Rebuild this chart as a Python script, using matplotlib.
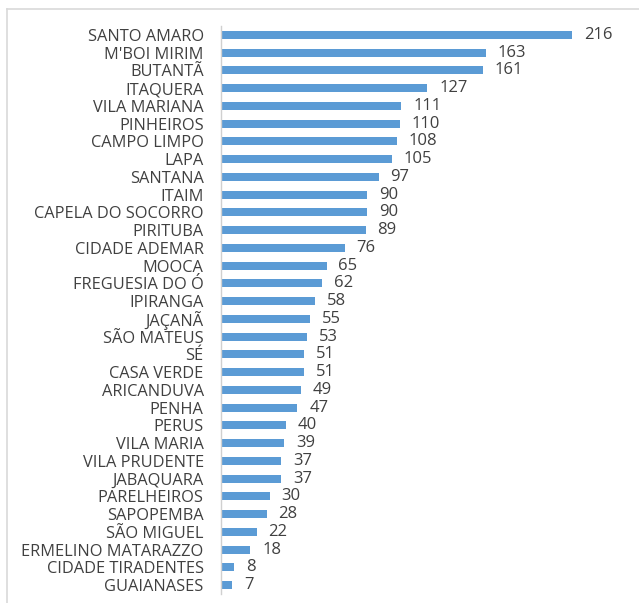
import matplotlib
matplotlib.use("Agg")
import matplotlib.pyplot as plt
from matplotlib.lines import Line2D

categories = ["SANTO AMARO", "M'BOI MIRIM", "BUTANTÃ", "ITAQUERA", "VILA MARIANA",
              "PINHEIROS", "CAMPO LIMPO", "LAPA", "SANTANA", "ITAIM",
              "CAPELA DO SOCORRO", "PIRITUBA", "CIDADE ADEMAR", "MOOCA", "FREGUESIA DO Ó",
              "IPIRANGA", "JAÇANÃ", "SÃO MATEUS", "SÉ", "CASA VERDE",
              "ARICANDUVA", "PENHA", "PERUS", "VILA MARIA", "VILA PRUDENTE",
              "JABAQUARA", "PARELHEIROS", "SAPOPEMBA", "SÃO MIGUEL", "ERMELINO MATARAZZO",
              "CIDADE TIRADENTES", "GUAIANASES"]
values = [216, 163, 161, 127, 111, 110, 108, 105, 97, 90,
          90, 89, 76, 65, 62, 58, 55, 53, 51, 51,
          49, 47, 40, 39, 37, 37, 30, 28, 22, 18, 8, 7]

W, H = 639, 603
fig = plt.figure(figsize=(W / 100, H / 100), dpi=100)
plt.rcParams['font.family'] = ['Open Sans', 'DejaVu Sans']

n = len(categories)
top_c, bot_c = 35, 585
step = (bot_c - top_c) / (n - 1)
y_top = top_c - step / 2
y_bot = bot_c + step / 2
left = 221
xmax = 250
px_per = (572 - left) / 216
right = left + xmax * px_per
ax = fig.add_axes([left / W, 1 - y_bot / H, (right - left) / W, (y_bot - y_top) / H])

ypos = list(range(n))
ax.barh(ypos, values, height=0.45, color='#5B9BD5')
ax.set_ylim(n - 0.5, -0.5)
ax.set_xlim(0, xmax)
ax.set_yticks(ypos)
ax.set_yticklabels(categories, fontsize=11.8, color='#404040')
ax.tick_params(axis='y', length=0, pad=12.5)
ax.set_xticks([])
for s in ['top', 'right', 'bottom']:
    ax.spines[s].set_visible(False)
ax.spines['left'].set_color('#d0d0d0')
ax.spines['left'].set_linewidth(1.0)

for y, v in zip(ypos, values):
    ax.annotate(str(v), (v, y), xytext=(8.5, 0), textcoords='offset points',
                va='center', ha='left', fontsize=12, color='#404040')

# outer border (top and left visible)
fig.add_artist(Line2D([7 / W, 7 / W], [0, 1 - 9 / H], color='#d9d9d9', lw=1.2))
fig.add_artist(Line2D([7 / W, 1], [1 - 9 / H, 1 - 9 / H], color='#d9d9d9', lw=1.2))

fig.savefig("out.png", dpi=100, facecolor='white')
